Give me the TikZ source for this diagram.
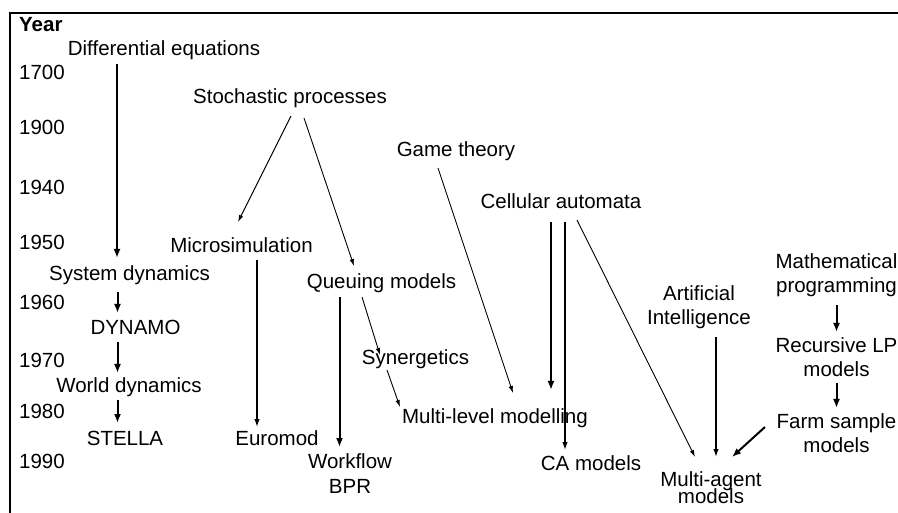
\documentclass[tikz,border=0pt]{standalone}
\usepackage{fontspec}
\setmainfont{Liberation Sans}
\usetikzlibrary{arrows.meta,calc}
\begin{document}
\begin{tikzpicture}[x=1pt,y=-1pt,
  lbl/.style={inner sep=0pt, anchor=base, font=\fontsize{20.5}{24.5}\selectfont, align=center},
  yr/.style={lbl, anchor=base west},
  thn/.style={line width=0.9pt, -{Latex[length=7pt,width=4.5pt]}},
  med/.style={line width=1.3pt, -{Latex[length=8pt,width=5.5pt]}},
  thk/.style={line width=2pt, -{Latex[length=9pt,width=7pt]}},
  frame/.style={line width=1.3pt}]
\useasboundingbox (0,0) rectangle (898,513);
\fill[white] (0,0) rectangle (898,513);
\draw[frame] (898,13) -- (10,13) -- (10,513);

% year axis
\node[yr, font=\fontsize{20.5}{24.5}\selectfont\bfseries] (year) at (19,32) {Year};
\node[yr] (y1700) at (19,80) {1700};
\node[yr] (y1900) at (19,135) {1900};
\node[yr] (y1940) at (19,195) {1940};
\node[yr] (y1950) at (19,250) {1950};
\node[yr] (y1960) at (19,310) {1960};
\node[yr] (y1970) at (19,367) {1970};
\node[yr] (y1980) at (19,418) {1980};
\node[yr] (y1990) at (19,468) {1990};

% concepts (multi-line nodes: base = last line)
\node[lbl] (diff) at (164,56) {Differential equations};
\node[lbl] (stoch) at (290,104) {Stochastic processes};
\node[lbl] (game) at (456,157) {Game theory};
\node[lbl] (cell) at (561,209) {Cellular automata};
\node[lbl] (micro) at (241.5,253) {Microsimulation};
\node[lbl] (sysdyn) at (129.5,281) {System dynamics};
\node[lbl] (queue) at (381.5,289) {Queuing models};
\node[lbl] (dynamo) at (135.5,335) {DYNAMO};
\node[lbl] (synerg) at (415.5,365) {Synergetics};
\node[lbl] (world) at (129,392) {World dynamics};
\node[lbl] (multil) at (495,424) {Multi-level modelling};
\node[lbl] (euromod) at (277,445) {Euromod};
\node[lbl] (stella) at (125,445) {STELLA};
\node[lbl] (camod) at (591,470) {CA models};
\node[lbl] (workflow) at (350,493) {Workflow\\BPR};
\node[lbl] (ai) at (699,325) {Artificial\\Intelligence};
\node[lbl] (math) at (836.5,293) {Mathematical\\programming};
\node[lbl] (recur) at (836.5,377) {Recursive LP\\models};
\node[lbl] (farm) at (836.5,453) {Farm sample\\models};
\node[lbl] (multia) at (711,503) {Multi-agent\\[-8pt]models};

% connectors
\draw[thk] ($(diff.base)+(-47,8)$) -- ($(sysdyn.base)+(-12.5,-23)$);
\draw[thk] ($(sysdyn.base)+(-12,11)$) -- ($(dynamo.base)+(-18,-22)$);
\draw[thk] ($(dynamo.base)+(-18,7)$) -- ($(world.base)+(-11.5,-19)$);
\draw[thk] ($(world.base)+(-11.5,8)$) -- ($(stella.base)+(-7.5,-22)$);

\draw[thn] ($(stoch.base)+(1,12)$) -- ($(micro.base)+(-3.5,-31)$);
\draw[thn] ($(stoch.base)+(14,14)$) -- ($(queue.base)+(-27.5,-23)$);
\draw[thn] ($(game.base)+(-18,11)$) -- ($(multil.base)+(18,-31)$);
\draw[thk] ($(cell.base)+(-10,13)$) -- ($(multil.base)+(56,-34)$);
\draw[med] ($(cell.base)+(4,13)$) -- ($(camod.base)+(-26,-20)$);
\draw[thn] ($(cell.base)+(16,11)$) -- ($(multia.base)+(-16,-46)$);
\draw[med] ($(micro.base)+(15.5,7)$) -- ($(euromod.base)+(-20,-18)$);
\draw[thk] ($(queue.base)+(-42,8)$) -- ($(workflow.base)+(-10.5,-46)$);
\draw[thn] ($(queue.base)+(-19.5,8)$) -- ($(synerg.base)+(-35.5,-10)$);
\draw[thn] ($(synerg.base)+(-28.5,5)$) -- ($(multil.base)+(-95,-17)$);
\draw[med] ($(ai.base)+(17,12)$) -- ($(multia.base)+(5,-46)$);
\draw[thk] ($(farm.base)+(-71.5,-26)$) -- ($(multia.base)+(21,-46)$);
\draw[thk] ($(math.base)+(0,12)$) -- ($(recur.base)+(0,-45)$);
\draw[thk] ($(recur.base)+(0,6)$) -- ($(farm.base)+(0,-45)$);
\end{tikzpicture}
\end{document}
